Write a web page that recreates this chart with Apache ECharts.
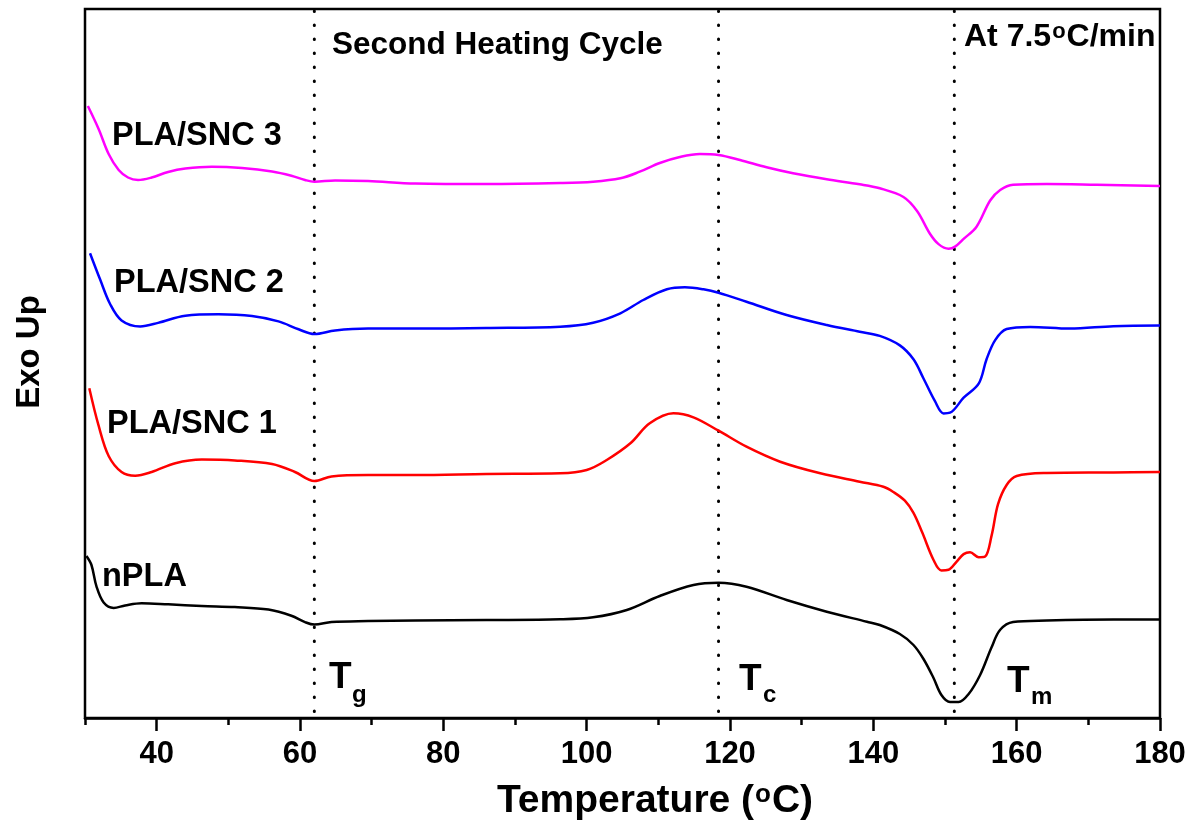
<!DOCTYPE html>
<html>
<head>
<meta charset="utf-8">
<script src="https://cdn.jsdelivr.net/npm/echarts@6/dist/echarts.min.js"></script>
<style>
  html, body { margin: 0; padding: 0; background: #fff; }
  #chart { width: 1196px; height: 825px; }
</style>
</head>
<body>
<div id="chart"></div>
<script>
// DSC second heating traces, [temperature (°C), heat flow (a.u., curves offset vertically)]
const nPLA = [[30.2,16.2],[30.9,15.3],[31.6,13.16],[32.6,11.55],[34.0,11.01],[35.6,11.26],[37.9,11.48],[41.6,11.37],[46.3,11.2],[50.9,11.09],[55.6,10.84],[58.8,10.23],[60.7,9.59],[62.0,9.34],[64.4,9.59],[69.5,9.69],[76.1,9.76],[86,9.8],[96.3,9.87],[100.9,10.07],[105.6,10.8],[110.2,12.2],[114.9,13.3],[118.4,13.53],[122.3,13.13],[127.9,11.8],[133.5,10.63],[139.1,9.63],[140.9,9.3],[143.7,8.4],[145.6,7.3],[147.0,5.9],[148.4,4.0],[149.5,2.3],[150.7,1.6],[151.9,1.6],[153.3,2.4],[154.9,4.3],[156.5,7.07],[157.7,8.82],[159.5,9.6],[164.2,9.75],[173.5,9.85],[180,9.85]];
const snc1 = [[30.6,32.98],[31.9,29.23],[33.3,26.2],[35.1,24.6],[37.0,24.23],[39.3,24.6],[42.6,25.48],[46.3,25.84],[50.9,25.76],[56.1,25.4],[59.3,24.6],[62.0,23.7],[64.4,24.16],[69.5,24.3],[76.1,24.3],[86,24.4],[96.3,24.47],[100.0,24.8],[102.8,25.8],[106.1,27.47],[108.8,29.47],[112.1,30.47],[114.9,30.07],[118.4,28.73],[122.3,27.13],[127.0,25.63],[132.6,24.47],[138.1,23.63],[141.4,23.13],[142.8,22.6],[144.4,21.73],[145.6,20.51],[146.8,18.59],[148.4,15.8],[149.5,14.75],[150.5,14.82],[151.6,15.62],[152.6,16.39],[153.5,16.57],[154.7,16.08],[155.6,16.15],[156.5,18.24],[157.4,21.38],[158.6,23.3],[160.0,24.2],[164.2,24.5],[173.5,24.55],[180,24.6]];
const snc2 = [[30.7,46.48],[32.1,43.87],[33.5,41.4],[35.1,39.76],[37.7,39.16],[40.2,39.51],[44.0,40.23],[48.6,40.37],[53.3,40.2],[57.0,39.66],[59.8,38.87],[62.0,38.4],[64.9,38.76],[69.5,38.94],[76.1,38.94],[86,39.0],[96.3,39.13],[100.9,39.53],[104.7,40.47],[107.9,41.8],[111.2,42.87],[113.7,43.07],[116.3,42.87],[118.4,42.53],[122.3,41.63],[127.9,40.3],[133.5,39.3],[138.1,38.63],[140.9,38.21],[143.7,37.26],[145.6,35.87],[147.0,33.95],[148.6,31.68],[149.8,30.46],[150.7,30.53],[152.6,32.03],[154.7,33.43],[155.8,35.87],[157.0,37.79],[158.6,38.9],[161.9,39.11],[167.4,38.94],[173.5,39.18],[180,39.25]];
const snc3 = [[30.4,61.2],[31.9,58.9],[33.3,56.4],[34.7,54.8],[36.0,54.05],[37.4,53.8],[39.3,54.05],[41.6,54.6],[44.0,54.94],[47.7,55.12],[51.9,55.0],[56.1,54.66],[58.8,54.23],[60.7,53.8],[62.0,53.62],[64.9,53.76],[69.5,53.7],[76.1,53.45],[86,53.4],[96.3,53.5],[100.9,53.63],[104.7,53.97],[107.4,54.63],[110.2,55.5],[113.0,56.1],[115.8,56.4],[118.4,56.3],[121.4,55.8],[125.1,55.07],[128.8,54.47],[133.5,53.87],[138.1,53.37],[140.9,52.97],[144.2,52.1],[146.1,50.7],[147.9,48.43],[149.1,47.39],[150.5,46.93],[151.4,47.14],[152.6,47.91],[154.4,49.13],[156.3,51.75],[157.7,52.8],[159.5,53.32],[164.2,53.39],[171.2,53.32],[180,53.21]];

// Transition temperatures marked by dotted guides: Tg, Tc, Tm
const transitions = [62.0, 118.4, 151.3];

// Axis ticks
const xMajorTicks = [40, 60, 80, 100, 120, 140, 160, 180];
const xMinorTicks = [30, 50, 70, 90, 110, 130, 150, 170];
const xRange = [30, 180];
const yRange = [0, 70.9];

const FONT = '"Liberation Sans", Arial, sans-serif';

const traces = [
  { name: 'nPLA', data: nPLA, color: '#000000' },
  { name: 'PLA/SNC 1', data: snc1, color: '#ff0000' },
  { name: 'PLA/SNC 2', data: snc2, color: '#0000ff' },
  { name: 'PLA/SNC 3', data: snc3, color: '#ff00ff' }
];

const series = [];
transitions.forEach(function (t) {
  series.push({
    type: 'line',
    data: [[t, yRange[1]], [t, yRange[0]]],
    showSymbol: false,
    silent: true,
    z: 1,
    lineStyle: { color: '#000', width: 3, type: [0.5, 13.5], cap: 'round', dashOffset: -2 }
  });
});
traces.forEach(function (tr) {
  series.push({
    name: tr.name,
    type: 'line',
    data: tr.data,
    showSymbol: false,
    smooth: 0.35,
    z: 3,
    lineStyle: { color: tr.color, width: 2.5, join: 'round' }
  });
});

function txt(text, x, y, size, extra) {
  return Object.assign({
    type: 'text',
    x: x, y: y,
    style: {
      text: text,
      font: 'bold ' + size + 'px ' + FONT,
      fill: '#000',
      align: 'left',
      verticalAlign: 'middle'
    }
  }, extra || {});
}

const option = {
  animation: false,
  backgroundColor: '#fff',
  grid: {
    left: 85, right: 36, top: 9, bottom: 107,
    show: true, borderColor: '#000', borderWidth: 2.5, backgroundColor: 'transparent'
  },
  xAxis: [
    {
      type: 'value', min: xRange[0], max: xRange[1],
      axisLine: { show: true, lineStyle: { color: '#000', width: 2.5 } },
      axisTick: { show: true, customValues: xMajorTicks, length: 13, lineStyle: { color: '#000', width: 2.5 } },
      axisLabel: {
        show: true, customValues: xMajorTicks, margin: 21,
        color: '#000', fontSize: 31, fontWeight: 'bold', fontFamily: FONT
      },
      splitLine: { show: false }
    },
    {
      type: 'value', min: xRange[0], max: xRange[1], position: 'bottom',
      axisLine: { show: false },
      axisTick: { show: true, customValues: xMinorTicks, length: 7, lineStyle: { color: '#000', width: 2.5 } },
      axisLabel: { show: false },
      splitLine: { show: false }
    }
  ],
  yAxis: {
    type: 'value', min: yRange[0], max: yRange[1], show: false
  },
  series: series,
  graphic: [
    // axis titles
    {
      type: 'text', x: 655, y: 801,
      style: {
        text: 'Temperature ({sup|o}C)',
        align: 'center', verticalAlign: 'middle',
        font: 'bold 39px ' + FONT, fill: '#000',
        rich: {
          sup: { fontSize: 26, fontWeight: 'bold', fontFamily: FONT, verticalAlign: 'top', lineHeight: 26, padding: [0, 1, 14, 1] }
        }
      }
    },
    {
      type: 'text', x: 30, y: 352, rotation: Math.PI / 2,
      style: {
        text: 'Exo Up', align: 'center', verticalAlign: 'middle',
        font: 'bold 33px ' + FONT, fill: '#000'
      }
    },
    // curve names
    txt('PLA/SNC 3', 112, 136, 32.5),
    txt('PLA/SNC 2', 114, 283, 32.5),
    txt('PLA/SNC 1', 107, 424, 32.5),
    txt('nPLA', 102, 577, 32.5),
    // annotations
    txt('Second Heating Cycle', 332, 45, 31.5),
    {
      type: 'text', x: 964, y: 37,
      style: {
        text: 'At 7.5{sup|o}C/min',
        align: 'left', verticalAlign: 'middle',
        font: 'bold 32px ' + FONT, fill: '#000',
        rich: {
          sup: { fontSize: 22, fontWeight: 'bold', fontFamily: FONT, verticalAlign: 'top', lineHeight: 22, padding: [0, 1, 12, 1] }
        }
      }
    },
    txt('T', 329, 678, 37),
    txt('g', 352, 695, 24),
    txt('T', 739, 680, 37),
    txt('c', 763, 695, 24),
    txt('T', 1007, 682, 37),
    txt('m', 1031, 697, 24)
  ]
};

const chart = echarts.init(document.getElementById('chart'), null, { renderer: 'canvas' });
chart.setOption(option);
</script>
</body>
</html>
